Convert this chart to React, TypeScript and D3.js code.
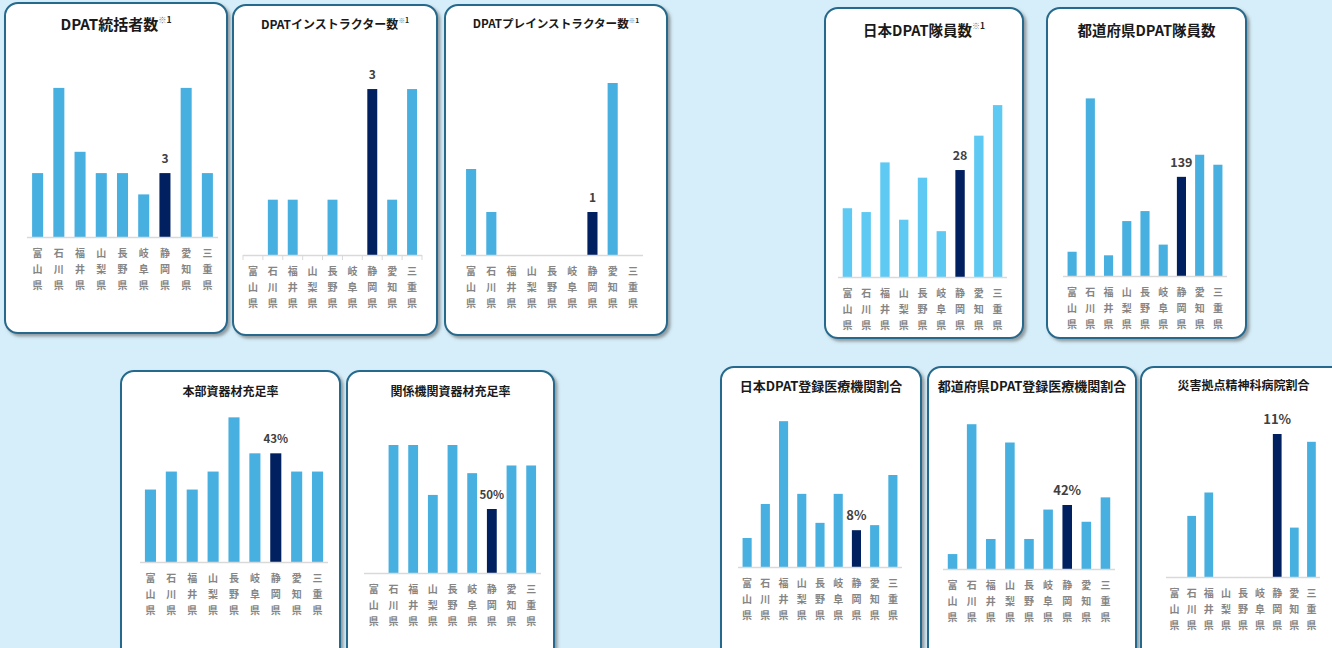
import React from "react";
import * as d3 from "d3";

// ---- data ----
const prefectures = ["富山県", "石川県", "福井県", "山梨県", "長野県", "岐阜県", "静岡県", "愛知県", "三重県"];
const highlightPref = "静岡県";

const tokatsuCount = [3, 7, 4, 3, 3, 2, 3, 7, 3];
const instructorCount = [0, 1, 1, 0, 1, 0, 3, 1, 3];
const preInstructorCount = [2, 1, 0, 0, 0, 0, 1, 4, 0];
const nihonDpatMembers = [18, 17, 30, 15, 26, 12, 28, 37, 45];
const prefDpatMembers = [34, 249, 29, 77, 91, 44, 139, 170, 156];
const honbuEquipRate = [28.6, 35.7, 28.6, 35.7, 57.1, 42.9, 42.9, 35.7, 35.7];
const kankeiEquipRate = [0, 100, 100, 61, 100, 78, 50, 84, 84];
const nihonDpatHospRate = [6.3, 13.7, 31.7, 15.9, 9.6, 15.9, 8, 9.1, 20];
const prefDpatHospRate = [9.8, 95, 19.7, 83, 19.7, 39, 42, 31, 47];
const disasterHospRate = [0, 4.7, 6.5, 0, 0, 0, 11, 3.8, 10.4];

const panelTitles = [
  "DPAT統括者数",
  "DPATインストラクター数",
  "DPATプレインストラクター数",
  "日本DPAT隊員数",
  "都道府県DPAT隊員数",
  "本部資器材充足率",
  "関係機関資器材充足率",
  "日本DPAT登録医療機関割合",
  "都道府県DPAT登録医療機関割合",
  "災害拠点精神科病院割合",
];
const titleNoteMarks = ["※", "※", "※", "※", "", "", "", "", "", ""];
const titleNoteNums = ["1", "1", "1", "1", "", "", "", "", "", ""];
const panelValues = [
  tokatsuCount,
  instructorCount,
  preInstructorCount,
  nihonDpatMembers,
  prefDpatMembers,
  honbuEquipRate,
  kankeiEquipRate,
  nihonDpatHospRate,
  prefDpatHospRate,
  disasterHospRate,
];
const valueUnits = ["", "", "", "", "", "%", "%", "%", "%", "%"];
const domainMax = [8, 3.5, 4.5, 50, 300, 60, 100, 35, 100, 12];

// ---- layout / style ----
const W = 1332;
const H = 648;
const BG = "#d6eef9";
const BORDER = "#25698d";
const BAR = "#47b0e0";
const BAR_LIGHT = "#5ecaf3";
const BAR_HI = "#002060";
const FONT = "'Noto Sans CJK JP', 'Noto Sans', sans-serif";

type Layout = {
  bx: number; by: number; bw: number; bh: number;
  titleY: number; titleSize: number;
  ax0: number; ax1: number; base: number; top: number;
  pad: number; labelSize: number; ticks?: boolean; barColor?: string;
};

const layouts: Layout[] = [
  { bx: 5, by: 3, bw: 222, bh: 330, titleY: 23, titleSize: 15, ax0: 27, ax1: 218, base: 237, top: 66.6, pad: 0.48, labelSize: 12 },
  { bx: 233, by: 5, bw: 204, bh: 330, titleY: 23, titleSize: 12, ax0: 243, ax1: 422, base: 255, top: 61.4, pad: 0.5, labelSize: 12, ticks: true },
  { bx: 445, by: 5, bw: 222, bh: 330, titleY: 23, titleSize: 11.6, ax0: 461, ax1: 643, base: 255, top: 61.5, pad: 0.5, labelSize: 12 },
  { bx: 825, by: 8, bw: 198, bh: 330, titleY: 29, titleSize: 14.5, ax0: 838, ax1: 1007, base: 277, top: 86, pad: 0.5, labelSize: 12.5, barColor: BAR_LIGHT },
  { bx: 1047, by: 8, bw: 199, bh: 330, titleY: 29, titleSize: 14.5, ax0: 1063, ax1: 1227, base: 276, top: 62, pad: 0.5, labelSize: 12.5 },
  { bx: 121, by: 371, bw: 219, bh: 300, titleY: 390, titleSize: 12, ax0: 140, ax1: 328, base: 562, top: 410, pad: 0.47, labelSize: 11.5 },
  { bx: 347, by: 371, bw: 207, bh: 300, titleY: 390, titleSize: 12, ax0: 364, ax1: 541, base: 573, top: 445, pad: 0.5, labelSize: 11.5 },
  { bx: 721, by: 367, bw: 200, bh: 300, titleY: 385, titleSize: 13, ax0: 738, ax1: 902, base: 567, top: 406, pad: 0.5, labelSize: 13 },
  { bx: 928, by: 367, bw: 208, bh: 300, titleY: 385, titleSize: 13, ax0: 943, ax1: 1115, base: 569, top: 416.6, pad: 0.5, labelSize: 13 },
  { bx: 1141, by: 367, bw: 205, bh: 300, titleY: 384, titleSize: 12, ax0: 1166, ax1: 1320, base: 577, top: 421, pad: 0.49, labelSize: 13 },
];

function Panel({ i }: { i: number }) {
  const L = layouts[i];
  const values = panelValues[i];
  const x = d3
    .scaleBand<string>()
    .domain(prefectures)
    .range([L.ax0, L.ax1])
    .paddingInner(L.pad)
    .paddingOuter(L.pad / 2);
  const y = d3.scaleLinear().domain([0, domainMax[i]]).range([L.base, L.top]);
  const step = x.step();
  const hiIdx = prefectures.indexOf(highlightPref);
  const hiVal = values[hiIdx];
  const fmt = (v: number) => `${Math.round(v)}${valueUnits[i]}`;
  const cx = L.bx + L.bw / 2;
  const supSize = L.titleSize * 0.55;
  return (
    <g>
      <rect
        x={L.bx}
        y={L.by}
        width={L.bw}
        height={L.bh}
        rx={13}
        ry={13}
        fill="#ffffff"
        stroke={BORDER}
        strokeWidth={2}
        filter="url(#shadow)"
      />
      <text
        x={cx}
        y={L.titleY}
        textAnchor="middle"
        dominantBaseline="central"
        fontFamily={FONT}
        fontWeight="bold"
        fontSize={L.titleSize}
        fill="#1a1a1a"
      >
        {panelTitles[i]}
        {titleNoteMarks[i] ? (
          <tspan fontSize={supSize} dy={-L.titleSize * 0.28} fill="#777" fontWeight="normal">
            {titleNoteMarks[i]}
          </tspan>
        ) : null}
        {titleNoteNums[i] ? (
          <tspan fontSize={supSize * 1.05} fill="#222" fontWeight="bold">
            {titleNoteNums[i]}
          </tspan>
        ) : null}
      </text>
      {prefectures.map((p, k) => {
        const v = values[k];
        if (!v) return null;
        return (
          <rect
            key={p}
            x={x(p)}
            y={y(v)}
            width={x.bandwidth()}
            height={y(0) - y(v)}
            fill={p === highlightPref ? BAR_HI : L.barColor || BAR}
          />
        );
      })}
      <line x1={L.ax0} x2={L.ax1} y1={L.base + 0.5} y2={L.base + 0.5} stroke="#d9d9d9" strokeWidth={1.5} />
      {L.ticks
        ? d3.range(prefectures.length + 1).map((k) => (
            <line
              key={k}
              x1={L.ax0 + k * step}
              x2={L.ax0 + k * step}
              y1={L.base}
              y2={L.base + 5}
              stroke="#d9d9d9"
              strokeWidth={1}
            />
          ))
        : null}
      <text
        x={(x(highlightPref) || 0) + x.bandwidth() / 2}
        y={y(hiVal) - 10}
        textAnchor="middle"
        fontFamily={FONT}
        fontWeight="bold"
        fontSize={L.labelSize}
        fill="#404040"
      >
        {fmt(hiVal)}
      </text>
      {prefectures.map((p) =>
        p.split("").map((ch, r) => (
          <text
            key={p + r}
            x={(x(p) || 0) + x.bandwidth() / 2}
            y={L.base + 15.8 + r * 15.7}
            textAnchor="middle"
            dominantBaseline="central"
            fontFamily={FONT}
            fontWeight="bold"
            fontSize={10}
            fill="#858585"
          >
            {ch}
          </text>
        ))
      )}
    </g>
  );
}

export default function App() {
  return (
    <svg
      width={W}
      height={H}
      style={{ position: "absolute", left: 0, top: 0, display: "block" }}
      viewBox={`0 0 ${W} ${H}`}
    >
      <defs>
        <filter id="shadow" x="-10%" y="-10%" width="130%" height="130%">
          <feDropShadow dx={2.5} dy={2.5} stdDeviation={1.5} floodColor="#555" floodOpacity={0.55} />
        </filter>
      </defs>
      <rect x={0} y={0} width={W} height={H} fill={BG} />
      {layouts.map((_, i) => (
        <Panel key={i} i={i} />
      ))}
    </svg>
  );
}
